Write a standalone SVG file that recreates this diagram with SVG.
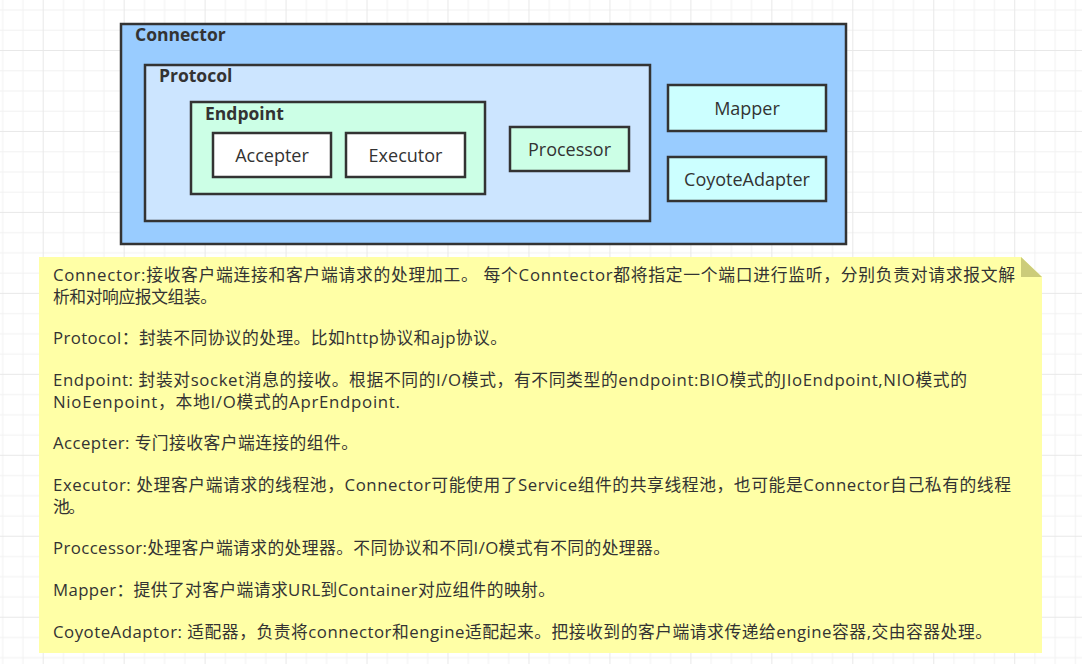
<svg xmlns="http://www.w3.org/2000/svg" width="1082" height="664" viewBox="0 0 1082 664">
<defs>
<pattern id="grid" patternUnits="userSpaceOnUse" width="80.96" height="80.96" x="42.7" y="50">
<rect width="80.96" height="80.96" fill="#ffffff"/>
<path d="M20.74 0V80.96M40.98 0V80.96M61.22 0V80.96M0 20.74H80.96M0 40.98H80.96M0 61.22H80.96" stroke="#f2f2f2" stroke-width="1" fill="none"/>
<path d="M0.5 0V80.96M0 0.5H80.96" stroke="#e8e8e8" stroke-width="1" fill="none"/>
</pattern>
<style>
.box{stroke:#333333;stroke-width:2.5}
.title{font-family:"Open Sans","Noto Sans CJK SC",sans-serif;font-weight:bold;font-size:17.5px;fill:#333333}
.lbl{font-family:"Open Sans","Noto Sans CJK SC",sans-serif;font-size:18px;fill:#333333;text-anchor:middle;dominant-baseline:central}
.note{font-family:"Open Sans","Noto Sans CJK SC",sans-serif;font-size:16.8px;fill:#333333}
</style>
</defs>
<rect width="1082" height="664" fill="url(#grid)"/>
<g id="connector">
<rect class="box" x="121" y="24" width="725" height="220" fill="#99CCFF"/>
<text class="title" x="135" y="41">Connector</text>
</g>
<g id="protocol">
<rect class="box" x="145" y="65" width="505" height="156" fill="#CCE5FF"/>
<text class="title" x="159" y="82">Protocol</text>
</g>
<g id="endpoint">
<rect class="box" x="191" y="102" width="294" height="92" fill="#CCFFE6"/>
<text class="title" x="205" y="120">Endpoint</text>
</g>
<g id="accepter">
<rect class="box" x="213" y="133" width="118" height="44" fill="#ffffff"/>
<text class="lbl" x="272" y="155">Accepter</text>
</g>
<g id="executor">
<rect class="box" x="346" y="133" width="119" height="44" fill="#ffffff"/>
<text class="lbl" x="405.5" y="155">Executor</text>
</g>
<g id="processor">
<rect class="box" x="510" y="127" width="119" height="44" fill="#CCFFE6"/>
<text class="lbl" x="569.5" y="149">Processor</text>
</g>
<g id="mapper">
<rect class="box" x="668" y="85" width="158" height="46" fill="#CCFFFF"/>
<text class="lbl" x="747" y="108">Mapper</text>
</g>
<g id="coyoteadapter">
<rect class="box" x="668" y="157" width="158" height="44" fill="#CCFFFF"/>
<text class="lbl" x="747" y="179">CoyoteAdapter</text>
</g>
<g id="connectors"></g>
<g id="note">
<path d="M39 257H1021L1042 277V653H39Z" fill="#FFFFA6"/>
<path d="M1021 257L1042 277H1021Z" fill="#CCCC7A"/>
<text class="note" x="53" y="281" textLength="962" lengthAdjust="spacing">Connector:接收客户端连接和客户端请求的处理加工。 每个Conntector都将指定一个端口进行监听，分别负责对请求报文解</text>
<text class="note" x="53" y="303" textLength="164" lengthAdjust="spacing">析和对响应报文组装。</text>
<text class="note" x="53" y="344" textLength="454" lengthAdjust="spacing">Protocol：封装不同协议的处理。比如http协议和ajp协议。</text>
<text class="note" x="53" y="386" textLength="914" lengthAdjust="spacing">Endpoint: 封装对socket消息的接收。根据不同的I/O模式，有不同类型的endpoint:BIO模式的JIoEndpoint,NIO模式的</text>
<text class="note" x="53" y="408" textLength="347" lengthAdjust="spacing">NioEenpoint，本地I/O模式的AprEndpoint.</text>
<text class="note" x="53" y="449" textLength="305" lengthAdjust="spacing">Accepter:  专门接收客户端连接的组件。</text>
<text class="note" x="53" y="491" textLength="958" lengthAdjust="spacing">Executor: 处理客户端请求的线程池，Connector可能使用了Service组件的共享线程池，也可能是Connector自己私有的线程</text>
<text class="note" x="53" y="513" textLength="32" lengthAdjust="spacing">池。</text>
<text class="note" x="53" y="554" textLength="617" lengthAdjust="spacing">Proccessor:处理客户端请求的处理器。不同协议和不同I/O模式有不同的处理器。</text>
<text class="note" x="53" y="596" textLength="502" lengthAdjust="spacing">Mapper：提供了对客户端请求URL到Container对应组件的映射。</text>
<text class="note" x="53" y="638" textLength="939" lengthAdjust="spacing">CoyoteAdaptor: 适配器，负责将connector和engine适配起来。把接收到的客户端请求传递给engine容器,交由容器处理。</text>
</g>
</svg>
